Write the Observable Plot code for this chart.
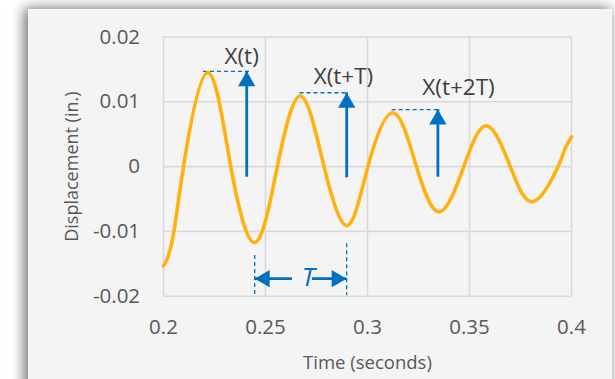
<!DOCTYPE html>
<html>
<head>
<meta charset="utf-8">
<script src="https://cdn.jsdelivr.net/npm/d3@7"></script>
<script src="https://cdn.jsdelivr.net/npm/@observablehq/plot@0.6"></script>
<style>
  html, body { margin: 0; padding: 0; width: 615px; height: 379px; overflow: hidden; background: #ffffff; }
  #card { position: absolute; left: 28px; top: 9px; width: 584px; height: 420px; background: #f4f4f4;
          box-shadow: -3px 0 12px 1px rgba(0,0,0,0.55); }
  #chart { position: absolute; left: 0; top: 0; }
</style>
</head>
<body>
<div id="card"></div>
<div id="chart"></div>
<script>
// Displacement signal (start/end, extrema, zero crossings, a few slope points)
const time = [0.2000, 0.2020, 0.2052, 0.2098, 0.2215, 0.2330, 0.2449, 0.2558, 0.2672, 0.2787, 0.2901, 0.3002,
              0.3126, 0.3240, 0.3353, 0.3472, 0.3583, 0.3700, 0.3812, 0.3934, 0.3966, 0.4000];
const displacement = [-0.0153, -0.0141, -0.0099, 0, 0.0145, 0, -0.0117, 0, 0.0109, 0, -0.0091, 0,
                      0.0083, 0, -0.0070, 0, 0.0063, 0, -0.0054, 0, 0.0026, 0.0046];

// Axis ticks
const xTicks = [0.2, 0.25, 0.3, 0.35, 0.4];
const xTickLabels = ["0.2", "0.25", "0.3", "0.35", "0.4"];
const yTicks = [-0.02, -0.01, 0, 0.01, 0.02];
const yTickLabels = ["-0.02", "-0.01", "0", "0.01", "0.02"];
const xTitle = "Time (seconds)";
const yTitle = "Displacement (in.)";

// Amplitude annotations
const ampLabels = ["X(t)", "X(t+T)", "X(t+2T)"];
const ampLabelT = [0.2383, 0.2882, 0.3446];
const ampLabelV = [0.0159, 0.01268, 0.01098];
const arrowT = [0.2408, 0.2898, 0.3345];
const arrowBase = [-0.0004, -0.0005, -0.0004];
const arrowTip = [0.0147, 0.0114, 0.0088];
const dashStartT = [0.2196, 0.2669, 0.3121];
const dashEndT = [0.2436, 0.2901, 0.3349];

// Period annotation
const periodLabel = "T";
const periodStart = 0.2447, periodEnd = 0.2898;
const periodMarkTop = [-0.0137, -0.0119];
const periodBottom = -0.0199;
const periodArrowV = -0.0173;
const leftShaftEnd = 0.2632, rightShaftStart = 0.2730;
const periodLabelT = 0.2709, periodLabelV = -0.01845;

const signal = time.map((t, i) => ({t, v: displacement[i]}));
const amps = ampLabels.map((label, i) => ({
  label, lt: ampLabelT[i], lv: ampLabelV[i], at: arrowT[i], base: arrowBase[i], tip: arrowTip[i],
  d1: dashStartT[i], d2: dashEndT[i]
}));
const marks = [
  {t: periodStart, top: periodMarkTop[0]},
  {t: periodEnd, top: periodMarkTop[1]}
];
const shafts = [
  {x1: periodStart, x2: leftShaftEnd},
  {x1: rightShaftStart, x2: periodEnd}
];

const BLUE = "#0070C0";
const ORANGE = "#FFB20F";
const GRID = "#d9d9d9";
const TEXT = "#595959";
const FONT = "'Open Sans', sans-serif";

const plot = Plot.plot({
  width: 615,
  height: 379,
  marginLeft: 163,
  marginRight: 44,
  marginTop: 36.5,
  marginBottom: 83.3,
  x: {domain: [0.2, 0.4]},
  y: {domain: [-0.02, 0.02]},
  style: {background: "transparent", fontFamily: FONT, fontSize: "20.5px", color: TEXT, overflow: "visible"},
  marks: [
    Plot.gridX(xTicks, {stroke: GRID, strokeOpacity: 1, strokeWidth: 1.6}),
    Plot.gridY(yTicks, {stroke: GRID, strokeOpacity: 1, strokeWidth: 1.6}),
    Plot.axisX(xTicks, {tickSize: 0, tickPadding: 23.5, tickFormat: (d) => xTickLabels[xTicks.indexOf(d)], label: null, fill: TEXT}),
    Plot.axisY(yTicks, {tickSize: 0, tickPadding: 23.4, tickFormat: (d) => yTickLabels[yTicks.indexOf(d)], label: null, fill: TEXT}),
    Plot.text([xTitle], {frameAnchor: "bottom", lineAnchor: "bottom", dy: 72.6, fontSize: 18.5, fill: TEXT, fontFamily: FONT}),
    Plot.text([yTitle], {frameAnchor: "left", textAnchor: "middle", lineAnchor: "bottom", rotate: -90, dx: -85.4, fontSize: 18, fill: TEXT, fontFamily: FONT}),
    // amplitude dashed guides
    Plot.ruleY(amps, {x1: "d1", x2: "d2", y: "tip", stroke: BLUE, strokeWidth: 1.3, strokeDasharray: "4,3"}),
    // period dashed markers
    Plot.ruleX(marks, {x: "t", y1: "top", y2: () => periodBottom, stroke: BLUE, strokeWidth: 1.3, strokeDasharray: "4,3"}),
    // signal
    Plot.line(signal, {x: "t", y: "v", stroke: ORANGE, strokeWidth: 3.6, curve: "natural"}),
    // amplitude arrows
    Plot.ruleX(amps, {x: "at", y1: "base", y2: "tip", stroke: BLUE, strokeWidth: 2.8, insetTop: 8}),
    Plot.dot(amps, {x: "at", y: "tip", symbol: "triangle", r: 6.43, fill: BLUE, stroke: "none", dy: 10}),
    Plot.text(amps, {x: "lt", y: "lv", text: "label", lineAnchor: "bottom", fontSize: 22.5, fill: "#404040", fontFamily: FONT}),
    // period arrows
    Plot.ruleY(shafts, {x1: "x1", x2: "x2", y: () => periodArrowV, stroke: BLUE, strokeWidth: 2.8}),
    Plot.dot([periodStart], {x: (d) => d, y: () => periodArrowV, symbol: "triangle", r: 6.43, fill: BLUE, stroke: "none", rotate: -90, dx: 10}),
    Plot.dot([periodEnd], {x: (d) => d, y: () => periodArrowV, symbol: "triangle", r: 6.43, fill: BLUE, stroke: "none", rotate: 90, dx: -10}),
    Plot.text([periodLabel], {x: () => periodLabelT, y: () => periodLabelV, lineAnchor: "bottom", fontSize: 26, fontStyle: "italic", fill: BLUE, fontFamily: FONT})
  ]
});
document.getElementById("chart").appendChild(plot);
</script>
</body>
</html>
